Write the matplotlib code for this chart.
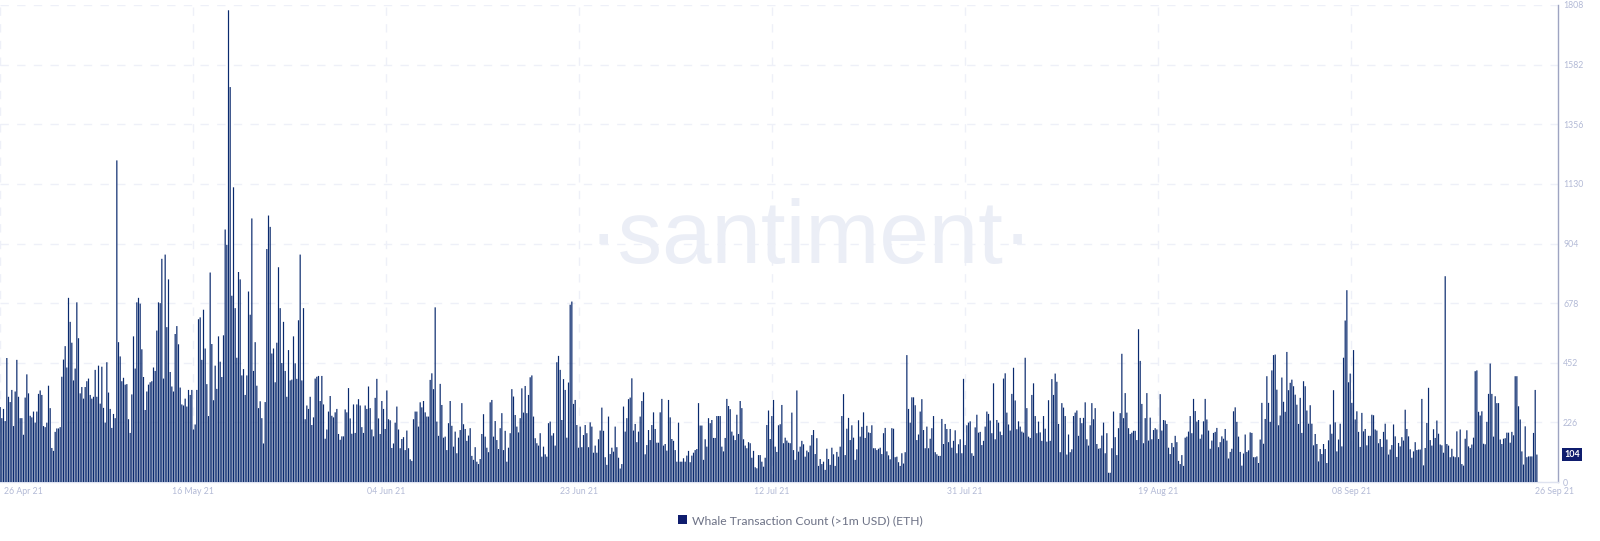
import matplotlib
matplotlib.use("Agg")
import matplotlib.pyplot as plt
from matplotlib.patches import Patch
from matplotlib.transforms import ScaledTranslation
import numpy as np

#4 hour whale transaction counts
apr_may = [
    284,242,277,231,470,323,303,349,212,343,463,323,242,242,179,320,408,336,251,245,
    267,225,267,334,347,330,212,208,225,365,280,129,118,190,203,203,208,399,464,515,
    434,698,607,528,385,430,681,545,336,360,316,360,382,392,330,316,323,425,323,441,
    297,437,281,225,454,339,277,205,258,242,1219,530,476,382,395,369,371,238,186,332,
    552,430,681,698,676,503,398,273,343,369,378,382,434,421,574,681,678,846,392,862,
    587,768,417,362,343,561,591,522,358,294,290,316,286,349,330,349,199,218,349,617,
    624,463,653,506,371,250,794,523,310,441,353,552,456,398,556,957,899,1788,1497,706,
    1117,659,471,796,768,404,428,330,404,722,634,999,421,530,365,280,306,242,146,303,
    883,1010,967,487,506,378,528,814,659,451,607,421,323,500,385,388,552,450,391,613,
    862,385,659,238,290,277,323,216,245,392,399,402,307,402,294,164,199,267,326,251,
    245,264,277,182,160,173,173,275,264,356,241,183,294,186,294,314,290,208,186,290,
    277,362,280,199,173,319,391,241,182,307,277,201,347,238,234,129,146,225,286,199,
]
jun_jul = [
    128,163,170,121,195,128,86,80,238,267,267,210,302,283,307,264,248,248,387,412,
    352,662,229,175,372,292,168,172,121,223,307,213,134,191,109,168,197,299,219,201,
    156,176,204,99,84,132,77,68,87,182,257,172,130,113,302,311,172,231,159,125,
    204,261,121,194,77,130,185,352,324,254,210,188,242,355,263,364,261,330,397,404,
    248,166,147,138,185,96,134,105,96,223,229,176,185,138,454,478,425,235,390,349,
    168,377,672,684,296,311,216,130,210,132,178,216,185,132,226,210,111,138,111,162,
    195,282,194,94,65,248,106,130,115,210,132,92,51,68,286,191,242,314,320,393,
    195,220,151,191,248,307,340,105,140,197,159,216,264,201,149,149,264,315,138,144,
    119,311,245,163,156,121,77,225,77,77,90,77,100,118,75,100,111,121,125,299,
    214,214,84,162,134,242,223,235,167,167,250,250,250,134,116,167,315,288,276,191,
    176,159,255,182,307,280,162,138,128,151,147,92,118,56,52,102,102,77,58,92,
    216,271,163,250,311,134,114,215,219,292,147,168,157,149,147,263,121,84,347,115,
]
jul_aug = [
    134,156,143,96,119,113,138,178,197,106,166,61,87,68,77,46,126,87,65,130,
    105,61,114,96,134,250,333,102,202,243,159,215,168,84,124,234,172,209,264,167,
    213,188,186,215,128,128,121,126,130,106,185,205,116,101,86,204,202,94,96,75,
    61,109,70,113,481,277,225,321,321,291,159,180,267,314,197,128,210,128,164,204,
    250,113,105,99,99,239,144,220,201,151,201,130,156,196,109,143,162,109,391,140,
    215,225,230,109,99,207,255,187,190,140,156,210,267,258,233,185,374,162,235,225,
    191,178,392,412,263,218,195,334,433,309,200,230,210,191,187,471,280,172,167,330,
    374,250,185,229,188,156,250,202,153,310,156,390,330,411,380,220,113,299,282,250,
    104,180,113,124,250,263,271,175,243,223,243,302,162,138,215,299,238,280,144,126,
    128,176,225,109,185,35,35,128,267,170,102,204,261,486,242,337,263,204,182,187,
    194,194,159,579,459,296,147,242,337,157,244,162,197,204,199,163,333,195,235,233,
    220,130,106,148,132,175,151,80,68,102,61,168,172,191,250,185,315,269,229,235,
]
aug_sep = [
    164,180,230,315,237,195,126,157,186,190,205,132,151,173,164,201,157,89,114,126,
    268,283,228,172,114,62,108,180,114,120,188,186,94,94,97,72,161,300,145,239,
    401,300,228,423,481,483,350,215,252,396,304,266,493,348,376,388,363,331,293,220,
    319,186,382,363,271,221,291,221,139,182,144,78,125,106,144,125,72,158,218,183,
    348,226,116,161,221,135,471,612,727,378,411,300,500,237,268,190,133,262,192,201,
    139,175,175,255,253,199,195,147,163,133,190,221,161,104,123,140,218,173,95,148,
    135,170,157,274,201,173,124,92,116,151,121,123,123,315,63,129,224,357,159,138,
    200,167,233,183,142,139,111,780,144,138,94,126,97,94,192,94,199,68,62,164,
    196,135,129,142,168,420,423,266,252,268,145,143,228,334,449,334,172,325,299,299,
    161,144,164,166,187,187,149,190,177,401,401,287,237,116,66,211,94,97,97,97,186,349,104,
]
counts = apr_may + jun_jul + jul_aug + aug_sep

dateLabels = ["26 Apr 21","16 May 21","04 Jun 21","23 Jun 21","12 Jul 21","31 Jul 21","19 Aug 21","08 Sep 21","26 Sep 21"]
dateIdx = [0,115.8,231.6,347.4,463.2,579,694.8,810.6,932.4]
yTicks = [0,226,452,678,904,1130,1356,1582,1808]

plt.rcParams['font.family'] = ['Lato', 'DejaVu Sans']

navy = "#0a2a6e"
tickColor = "#b3bad6"
gridColor = "#eef0f8"

fig = plt.figure(figsize=(16, 5.41), dpi=100)
#axes box in pixels: x 0-1558, y 5-482 from the top
ax = fig.add_axes([0, (541-482)/541, 1558/1600, (482-5)/541])
ax.set_xlim(0, 1558/1.6667)
ax.set_ylim(0, 1808)
ax.set_facecolor("none")

#watermark sits under the bars
fig.text(811/1600, 1-263/541, "·santiment·", color="#ebeef6", fontsize=64, ha="center", va="baseline",
         family="Liberation Sans", zorder=0)

ax.bar(np.arange(len(counts))+0.1, counts, width=0.72, color=navy, linewidth=0, snap=False, zorder=3)

ax.set_yticks(yTicks)
ax.yaxis.tick_right()
ax.set_xticks(dateIdx)
ax.set_xticklabels(dateLabels)
ax.tick_params(axis="both", length=0, labelsize=6.3, labelcolor=tickColor)
ax.tick_params(axis="y", pad=3.6)
ax.tick_params(axis="x", pad=3.4)
ax.grid(True, color=gridColor, linewidth=1, linestyle=(0, (6, 6)), zorder=1)
ax.get_xgridlines()[-1].set_visible(False)
ax.get_xticklabels()[0].set_ha("left")
ax.get_xticklabels()[0].set_transform(ax.get_xticklabels()[0].get_transform() + ScaledTranslation(4/100, 0, fig.dpi_scale_trans))

for side in ["top", "left"]:
    ax.spines[side].set_visible(False)
ax.spines["right"].set_color("#9ea4c2")
ax.spines["right"].set_linewidth(1)
ax.spines["bottom"].set_color("#dfe3f0")
ax.spines["bottom"].set_linewidth(1)

#latest value badge
ax.text(1.0039, 104, "104", transform=ax.get_yaxis_transform(), color="white", fontsize=6.4, fontweight="bold",
        ha="left", va="center", clip_on=False, zorder=5,
        bbox=dict(boxstyle="square,pad=0.25", facecolor="#0f1d6e", edgecolor="none"))

fig.legend(handles=[Patch(facecolor="#0f1d6e", edgecolor="none")], labels=["Whale Transaction Count (>1m USD) (ETH)"],
           loc="center", bbox_to_anchor=(800/1600, 1-520.5/541), frameon=False, fontsize=8.7,
           labelcolor="#6d7286", handlelength=0.75, handleheight=0.75, handletextpad=0.4)

fig.savefig("out.png", dpi=100)
